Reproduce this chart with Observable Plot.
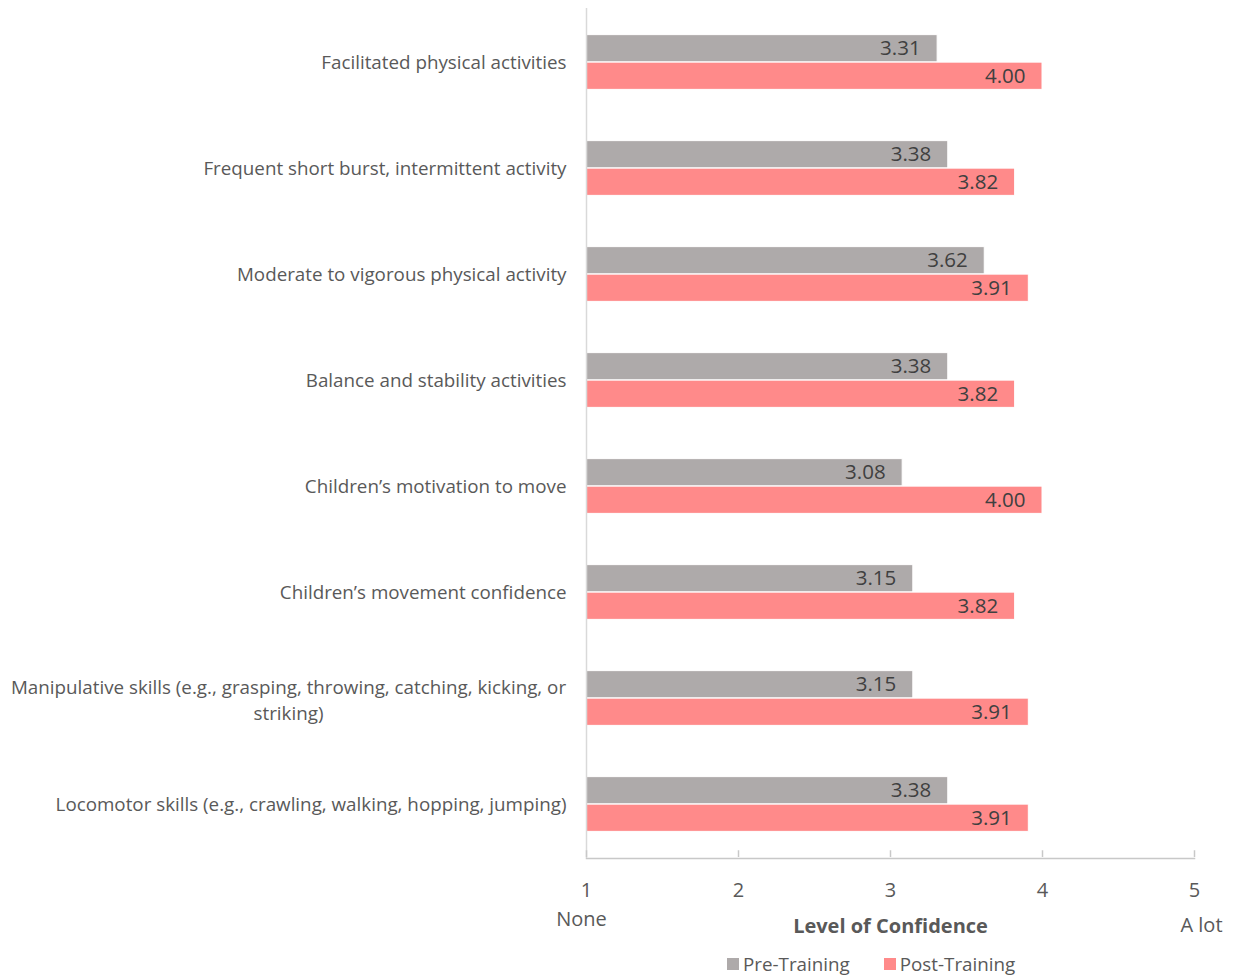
<!DOCTYPE html>
<html>
<head>
<meta charset="utf-8">
<script src="https://cdn.jsdelivr.net/npm/d3@7"></script>
<script src="https://cdn.jsdelivr.net/npm/@observablehq/plot@0.6"></script>
<style>
  html, body { margin: 0; padding: 0; background: #fff; }
  #wrap { position: relative; width: 1237px; height: 977px; font-family: "Open Sans", sans-serif; }
  #legend { position: absolute; left: 727px; top: 951px; display: flex; align-items: center; font-size: 18.8px; color: #595959; white-space: nowrap; }
  #legend .sw { display: inline-block; width: 12px; height: 12px; margin-right: 4px; }
  #legend .item { display: flex; align-items: center; margin-right: 34px; }
</style>
</head>
<body>
<div id="wrap"><div id="chart"></div><div id="legend"></div></div>
<script>
const categories = [
  "Facilitated physical activities",
  "Frequent short burst, intermittent activity",
  "Moderate to vigorous physical activity",
  "Balance and stability activities",
  "Children\u2019s motivation to move",
  "Children\u2019s movement confidence",
  "Manipulative skills (e.g., grasping, throwing, catching, kicking, or\nstriking)",
  "Locomotor skills (e.g., crawling, walking, hopping, jumping)"
];
const preTraining  = [3.31, 3.38, 3.62, 3.38, 3.08, 3.15, 3.15, 3.38];
const postTraining = [4.00, 3.82, 3.91, 3.82, 4.00, 3.82, 3.91, 3.91];
const seriesNames = ["Pre-Training", "Post-Training"];
const seriesColors = ["#AEAAAA", "#FF8A8A"];
const xTicks = [1, 2, 3, 4, 5];
const axisTitle = "Level of Confidence";
const lowLabel = "None";
const highLabel = "A lot";

const pre = categories.map((c, i) => ({cat: c, value: preTraining[i]}));
const post = categories.map((c, i) => ({cat: c, value: postTraining[i]}));

const W = 1237, H = 945;
const bandH = 850 / categories.length;
const barH = 27.5;
const half = bandH / 2;

const plot = Plot.plot({
  width: W,
  height: H,
  marginLeft: 586,
  marginRight: 43,
  marginTop: 8,
  marginBottom: 87,
  style: {fontFamily: "Open Sans, sans-serif", background: "#fff", overflow: "visible"},
  x: {domain: [1, 5], axis: null},
  y: {domain: categories, padding: 0, axis: null},
  marks: [
    Plot.barX(pre, {x1: d => 1, x2: "value", y: "cat", fill: seriesColors[0], stroke: "#fff", strokeWidth: 1,
      insetTop: half - barH, insetBottom: half}),
    Plot.barX(post, {x1: d => 1, x2: "value", y: "cat", fill: seriesColors[1], stroke: "#fff", strokeWidth: 1,
      insetTop: half, insetBottom: half - barH}),
    Plot.text(pre, {x: "value", y: "cat", text: d => d.value.toFixed(2), dy: -barH / 2, dx: -17,
      textAnchor: "end", fontSize: 20.5, fill: "#404040"}),
    Plot.text(post, {x: "value", y: "cat", text: d => d.value.toFixed(2), dy: barH / 2, dx: -17,
      textAnchor: "end", fontSize: 20.5, fill: "#404040"}),
    Plot.ruleX([1], {stroke: "#d9d9d9", strokeWidth: 1.5}),
    Plot.frame({anchor: "bottom", stroke: "#c8c8c8", strokeWidth: 1.5}),
    Plot.tickX(xTicks, {x: d => d, y: d => categories[categories.length - 1], insetTop: bandH - 7, stroke: "#c8c8c8", strokeWidth: 1.5}),
    // category labels
    Plot.text(categories.filter(c => !c.includes("\n")), {y: d => d, text: d => d, frameAnchor: "left", dx: -20,
      textAnchor: "end", fontSize: 18.8, fill: "#595959"}),
    Plot.text(categories.filter(c => c.includes("\n")), {y: d => d, text: d => d, frameAnchor: "left", dx: -298,
      textAnchor: "middle", fontSize: 18.8, lineHeight: 1.4, fill: "#595959"}),
    // tick labels
    Plot.text(xTicks, {x: d => d, text: d => String(d), frameAnchor: "bottom", dy: 38, fontSize: 20, fill: "#595959"}),
    Plot.text([lowLabel], {x: d => 1, text: d => d, frameAnchor: "bottom", dy: 67, dx: -5, fontSize: 20, fill: "#595959"}),
    Plot.text([highLabel], {x: d => 5, text: d => d, frameAnchor: "bottom", dy: 73, dx: 7, fontSize: 20, fill: "#595959"}),
    Plot.text([axisTitle], {text: d => d, frameAnchor: "bottom", dy: 74, fontSize: 20, fontWeight: "bold", fill: "#595959"})
  ]
});
document.getElementById("chart").appendChild(plot);

const legend = document.getElementById("legend");
seriesNames.forEach((name, i) => {
  const item = document.createElement("span");
  item.className = "item";
  const sw = document.createElement("span");
  sw.className = "sw";
  sw.style.background = seriesColors[i];
  item.appendChild(sw);
  item.appendChild(document.createTextNode(name));
  legend.appendChild(item);
});
</script>
</body>
</html>
